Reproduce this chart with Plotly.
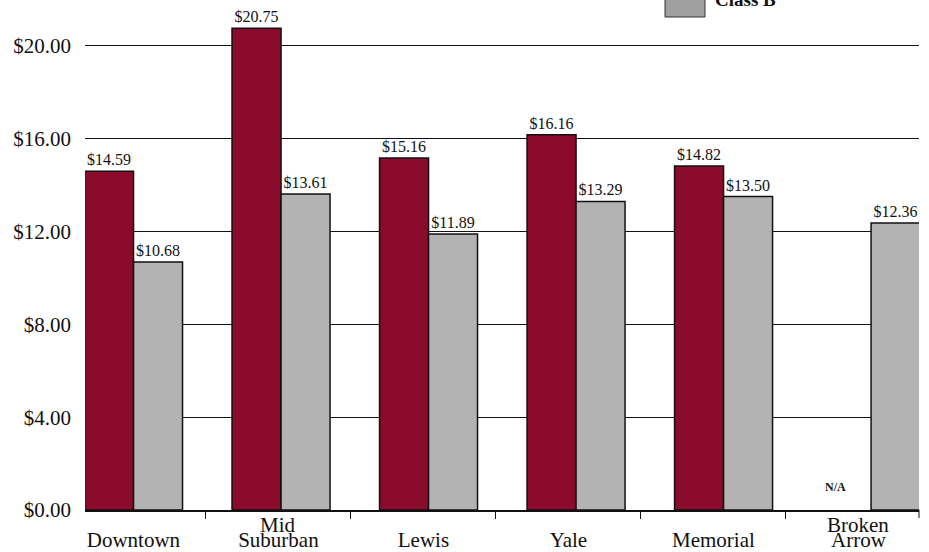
import plotly.graph_objects as go

categories = ["Downtown", "Mid Suburban", "Lewis", "Yale", "Memorial", "Broken Arrow"]
class_a = [14.59, 20.75, 15.16, 16.16, 14.82, None]
class_b = [10.68, 13.61, 11.89, 13.29, 13.50, 12.36]
label_alias = {"Mid Suburban": "Suburban", "Broken Arrow": "Arrow"}
upper_words = {"Mid Suburban": "Mid", "Broken Arrow": "Broken"}
y_ticks = [0, 4, 8, 12, 16, 20]
y_tick_text = ["$%.2f" % v for v in y_ticks]

FONT = "Liberation Serif"
MAROON = "#8B0B2C"
GRAY = "#B3B3B3"

fig = go.Figure()
fig.add_trace(go.Bar(
    x=categories, y=class_a, name="Class A",
    marker=dict(color=MAROON, line=dict(color="#111111", width=1.5)),
    texttemplate="$%{y:.2f}", textposition="outside",
    textfont=dict(family=FONT, size=16, color="#111111"),
    cliponaxis=False, showlegend=False, hoverinfo="skip",
))
fig.add_trace(go.Bar(
    x=categories, y=class_b, name="Class B",
    marker=dict(color=GRAY, line=dict(color="#111111", width=1.5)),
    texttemplate="$%{y:.2f}", textposition="outside",
    textfont=dict(family=FONT, size=16, color="#111111"),
    cliponaxis=False, showlegend=False, hoverinfo="skip",
))
# invisible trace that carries the category labels axis
fig.add_trace(go.Scatter(
    x=categories, y=[None] * len(categories), xaxis="x2",
    mode="markers", showlegend=False, hoverinfo="skip",
))

fig.update_layout(
    width=929, height=552,
    margin=dict(l=85, r=10, t=0, b=40),
    paper_bgcolor="white", plot_bgcolor="white",
    barmode="group", bargap=0.3356, bargroupgap=0,
    font=dict(family=FONT, color="#111111"),
    xaxis=dict(
        type="category", range=[-0.329, 5.325],
        showticklabels=False, ticks="", showgrid=False,
        showline=True, linecolor="#111111", linewidth=1.5,
        zeroline=False,
    ),
    xaxis2=dict(
        type="category", overlaying="x", anchor="y", side="bottom",
        range=[-0.334, 5.418], tickson="boundaries",
        ticks="outside", ticklen=8, tickcolor="#111111", tickwidth=1,
        showgrid=False, showline=False, zeroline=False,
        labelalias=label_alias,
        tickfont=dict(family=FONT, size=21, color="#111111"),
        ticklabelstandoff=15,
    ),
    yaxis=dict(
        range=[0, 21.97], tickmode="array",
        tickvals=y_ticks, ticktext=y_tick_text,
        tickfont=dict(family=FONT, size=21, color="#111111"),
        showgrid=True, gridcolor="#111111", gridwidth=1.2,
        zeroline=False, showline=False, ticks="",
        ticklabelstandoff=13,
    ),
)

# upper words of two-line category labels
for cat, word in upper_words.items():
    fig.add_annotation(
        x=cat, xref="x2", y=0, yref="paper", yanchor="top",
        yshift=-1, text=word, showarrow=False,
        font=dict(family=FONT, size=21, color="#111111"),
    )

# N/A marker for missing Class A value
fig.add_annotation(
    x="Broken Arrow", xref="x", xshift=-36, y=0, yref="y",
    yanchor="bottom", yshift=14, text="<b>N/A</b>", showarrow=False,
    font=dict(family=FONT, size=12, color="#111111"),
)

# axis end tick
fig.add_shape(type="line", xref="paper", yref="paper", x0=1, x1=1,
              ysizemode="pixel", yanchor=0, y0=0, y1=-8,
              line=dict(color="#111111", width=1))

# legend (only the lower entry is visible, top is cut off)
fig.add_shape(type="rect", xref="paper", yref="paper",
              xsizemode="pixel", ysizemode="pixel",
              xanchor=(665 - 85) / 834, yanchor=1,
              x0=0, x1=40, y0=-17, y1=20,
              fillcolor="#A0A0A0", line=dict(color="#333333", width=1))
fig.add_annotation(
    x=(713 - 85) / 834, xref="paper", xanchor="left",
    y=1, yref="paper", yanchor="bottom", yshift=-12,
    text="<b>Class B</b>", showarrow=False,
    font=dict(family=FONT, size=19, color="#111111"),
)

fig.write_html("out.html")
